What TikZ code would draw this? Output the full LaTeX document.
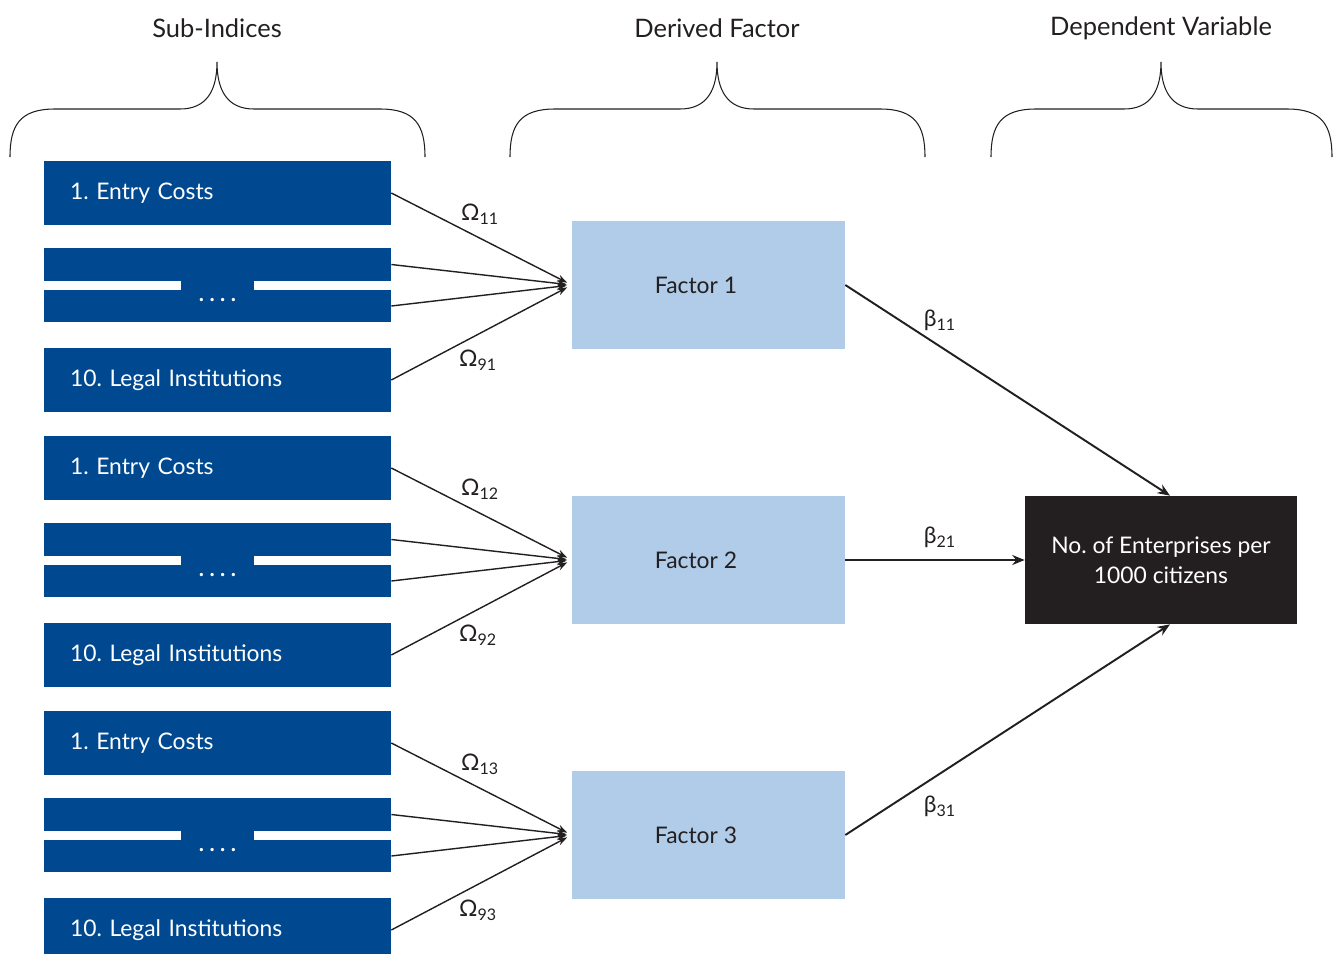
\documentclass[tikz,border=0pt]{standalone}
\usepackage{fontspec}
\setmainfont{Lato}
\usetikzlibrary{arrows.meta, positioning}

\definecolor{subblue}{RGB}{0,73,144}
\definecolor{factorblue}{RGB}{176,204,233}
\definecolor{depblack}{RGB}{35,31,32}

% curly head brace: left end, tip, right end
\newcommand\headbrace[3]{%
  \draw[line width=0.6pt, depblack]
    (#1,157) .. controls (#1,125) and (#1+10,109) .. (#1+45,109) -- (#2-37,109)
      .. controls (#2-10,109) and (#2,90) .. (#2,62)
    (#3,157) .. controls (#3,125) and (#3-10,109) .. (#3-45,109) -- (#2+37,109)
      .. controls (#2+10,109) and (#2,90) .. (#2,62);}

\begin{document}
\begin{tikzpicture}[
  x=0.02cm, y=-0.02cm,
  sub/.style={fill=subblue, text=white, minimum height=1.28cm, text width=5.9cm,
    inner xsep=0.52cm, inner ysep=0pt, align=left, font=\fontsize{13}{15}\selectfont},
  bar/.style={fill=subblue, minimum width=6.94cm, minimum height=0.65cm, inner sep=0pt},
  dots/.style={text=white, inner sep=0pt, font=\fontsize{15}{15}\selectfont},
  factor/.style={fill=factorblue, text=depblack, minimum width=5.46cm, minimum height=2.56cm,
    inner sep=0pt, font=\fontsize{13}{15}\selectfont},
  dep/.style={fill=depblack, text=white, minimum width=5.44cm, minimum height=2.56cm,
    align=center, inner sep=0pt, font=\fontsize{13}{17}\selectfont},
  weight/.style={-{Stealth[length=0.2cm, width=0.14cm]}, line width=0.8pt, depblack,
    shorten >=0.1cm},
  effect/.style={-{Stealth[length=0.25cm, width=0.2cm]}, line width=1.1pt, depblack},
  coef/.style={text=depblack, inner sep=0pt, font=\fontsize{13}{15}\selectfont},
  head/.style={text=depblack, inner sep=0pt, font=\fontsize{14.5}{17}\selectfont}
]
  \useasboundingbox (0,0) rectangle (1340,954);

  % Headings
  \node[head] (hsub) at (217,28) {Sub-Indices};
  \node[head] (hfac) at (717,28) {Derived Factor};
  \node[head] (hdep) at (1161,28) {Dependent Variable};
  \headbrace{10}{217}{425}
  \headbrace{510}{717}{925}
  \headbrace{991}{1161}{1332}

  % Dependent variable
  \node[dep] (dep) at (1161,560) {No.\ of Enterprises per\\1000 citizens};

  % Sub-indices and factors
  \foreach \g/\dy in {1/0, 2/275, 3/550} {
    \node[sub] (first\g) at (217.5,193+\dy) {1.\ Entry Costs};
    \node[bar] (bartop\g) at (217.5,264.5+\dy) {};
    \node[bar] (barbot\g) at (217.5,306+\dy) {};
    \fill[subblue] (181,280+\dy) rectangle (254,291+\dy);
    \node[dots] (dots\g) at (217.5,300+\dy) {.\,.\,.\,.};
    \node[sub] (last\g) at (217.5,380+\dy) {10.\ Legal Institutions};
    \node[factor] (factor\g) at (708.5,285+\dy) {\hspace*{-0.5cm}Factor \g};
    \draw[weight] (first\g.east) -- (factor\g.west);
    \draw[weight] (bartop\g.east) -- (factor\g.west);
    \draw[weight] (barbot\g.east) -- (factor\g.west);
    \draw[weight] (last\g.east) -- (factor\g.west);
    \node[coef] (omegatop\g) at (480,214+\dy) {Ω\textsubscript{1\g}};
    \node[coef] (omegabot\g) at (478,360+\dy) {Ω\textsubscript{9\g}};
  }

  % Effects on the dependent variable
  \draw[effect] (factor1.east) -- ([xshift=0.18cm]dep.north);
  \draw[effect] (factor2.east) -- (dep.west);
  \draw[effect] (factor3.east) -- ([xshift=0.18cm]dep.south);
  \node[coef] (beta1) at (940,320) {β\textsubscript{11}};
  \node[coef] (beta2) at (940,537) {β\textsubscript{21}};
  \node[coef] (beta3) at (940,806) {β\textsubscript{31}};
\end{tikzpicture}
\end{document}
